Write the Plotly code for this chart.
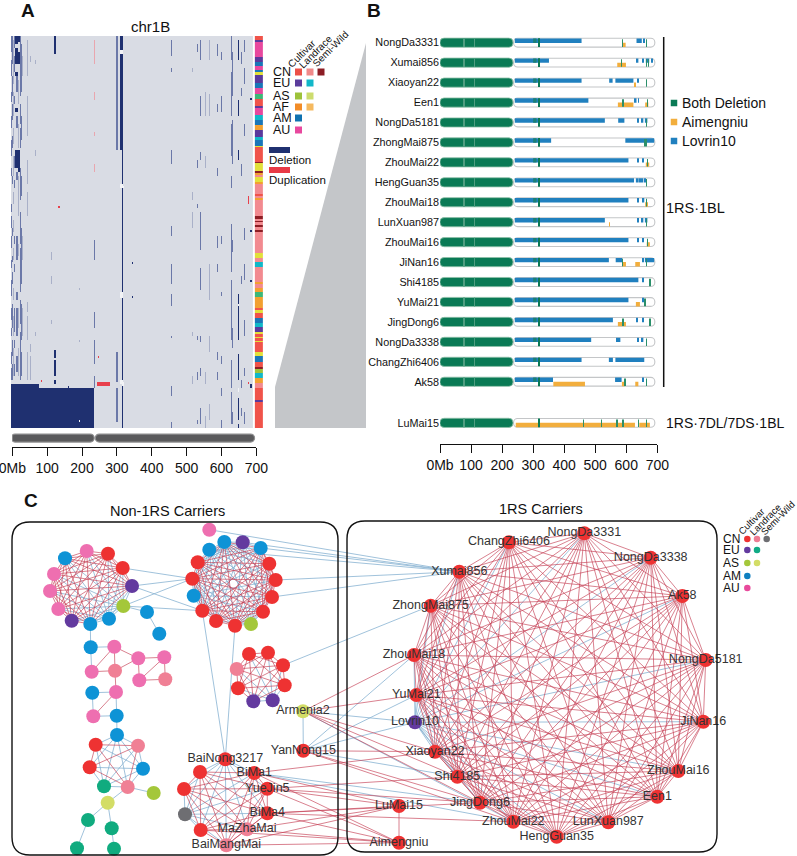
import plotly.graph_objects as go

W, H = 797, 856
FONT = "Liberation Sans"

# ---------- Panel A data ----------
GRID_MB_START, GRID_MB_STEP, GRID_COLS, GRID_ROWS = -4, 2, 347, 196
LEVELS = ["#d9dce4", "#a9b0c8", "#6b78a8", "#1f3070", "#e8404c", "#e9a6ae", "#f2f3f6"]
# (mb_start, mb_end, level, [(row_start, row_end), ...])
A_COLUMNS = [
    # left dense area
    (-4, -2, 2, [(0, 8), (12, 20), (28, 33), (40, 46), (52, 60), (66, 70), (84, 88), (90, 96), (100, 106), (112, 116), (122, 130), (136, 142), (146, 150), (158, 164), (166, 172)]),
    (-2, 0, 3, [(2, 6), (18, 22), (30, 32), (44, 48), (64, 68), (80, 84), (104, 108), (138, 141), (148, 150), (160, 163)]),
    (0, 3, 2, [(0, 14), (20, 30), (34, 42), (50, 56), (70, 74), (96, 100), (110, 113), (118, 124), (134, 146), (152, 160), (164, 172)]),
    (3, 6, 1, [(2, 24), (28, 40), (46, 54), (60, 70), (78, 84), (92, 98), (106, 112), (126, 132), (140, 150), (156, 170)]),
    (6, 9, 2, [(0, 6), (10, 18), (30, 34), (60, 66), (72, 76), (100, 104), (114, 118), (136, 148), (152, 156), (164, 170)]),
    (8, 16, 3, [(0, 4), (6, 14), (18, 20), (36, 38), (57, 66)]),
    (12, 16, 2, [(20, 28), (40, 46), (68, 72), (100, 112), (128, 132), (136, 150), (160, 168)]),
    (16, 22, 3, [(0, 3), (8, 14), (57, 66), (66, 68)]),
    (16, 20, 1, [(22, 34), (44, 56), (70, 90), (104, 110), (136, 146), (156, 170)]),
    (22, 25, 2, [(0, 30), (34, 44), (46, 56), (66, 82), (88, 104), (106, 128), (132, 144), (148, 172)]),
    (25, 28, 2, [(4, 28), (40, 52), (70, 80), (96, 124), (134, 152), (158, 170)]),
    (28, 30, 1, [(10, 20), (100, 112), (136, 150)]),
    (42, 44, 1, [(2, 20), (30, 50), (62, 74), (78, 90), (133, 138), (140, 152), (158, 172)]),
    (45, 47, 1, [(4, 18), (40, 52), (64, 68), (134, 138), (142, 150), (160, 172)]),
    (52, 54, 1, [(10, 13), (154, 158), (160, 172)]),
    (66, 68, 1, [(12, 14), (57, 60), (148, 150)]),
    # middle of the short arm
    (82, 84, 4, [(172, 173)]),
    (90, 92, 2, [(0, 3), (6, 9), (56, 64), (84, 86), (95, 97), (102, 113), (119, 122), (125, 128), (131, 134), (158, 161), (162, 172)]),
    (112, 114, 1, [(108, 112), (120, 124), (142, 144)]),
    (120, 126, 3, [(0, 8), (8, 9), (157, 161), (162, 170), (172, 174)]),
    (133, 137, 4, [(85, 86)]),
    (160, 164, 3, [(175, 176)]),
    (192, 194, 1, [(152, 153), (126, 127)]),
    (228, 231, 3, [(56, 63), (131, 135), (92, 93), (150, 151)]),
    (234, 236, 5, [(2, 14), (28, 32), (48, 50), (64, 68)]),
    (234, 236, 2, [(102, 112), (138, 146), (152, 164), (170, 176)]),
    (236, 238, 2, [(104, 116), (140, 150), (158, 163), (192, 196)]),
    (236, 238, 4, [(127, 129)]),
    (247, 250, 4, [(160, 161)]),
    (243, 280, 4, [(173, 175)]),
    (288, 290, 3, [(105, 110), (113, 115)]),
    # pericentric columns
    (298, 305, 2, [(0, 57), (158, 173), (176, 193)]),
    (310, 319, 3, [(0, 57)]),
    (315, 318, 3, [(57, 196)]),
    (310, 319, 6, [(7, 9), (74, 76), (128, 131), (172, 174)]),
    (343, 347, 3, [(113, 114), (130, 131)]),
    (316, 320, 6, [(75, 76), (173, 175)]),
    (328, 330, 1, [(6, 10), (170, 172)]),
    # right arm
    (420, 422, 2, [(12, 14), (57, 65), (77, 86), (104, 115), (118, 128), (131, 135), (148, 157), (157, 175), (180, 182)]),
    (455, 458, 2, [(2, 10), (16, 18), (57, 64), (95, 100), (114, 124), (129, 135), (150, 151), (175, 180), (193, 196)]),
    (495, 497, 1, [(26, 30), (186, 188)]),
    (516, 518, 1, [(16, 18), (78, 82), (88, 96), (148, 150), (170, 174)]),
    (520, 522, 2, [(2, 4), (20, 22), (68, 70), (98, 112), (116, 120), (126, 128), (148, 150), (158, 170), (176, 190)]),
    (530, 532, 2, [(4, 8), (62, 66), (84, 86), (150, 152), (168, 172), (192, 194)]),
    (538, 540, 2, [(2, 12), (30, 40), (58, 62), (88, 107), (116, 127), (150, 153), (166, 170), (186, 194)]),
    (546, 548, 1, [(0, 6), (14, 20), (29, 40), (70, 76), (158, 172), (184, 190)]),
    (554, 556, 1, [(28, 40), (60, 66), (168, 174), (190, 196)]),
    (560, 562, 2, [(0, 4), (8, 18), (30, 40), (60, 68), (92, 100), (113, 135), (146, 158), (162, 176), (182, 190)]),
    (564, 566, 1, [(2, 12), (29, 40), (114, 132), (150, 158), (184, 192)]),
    (572, 575, 2, [(0, 2), (10, 14), (30, 40), (66, 70), (110, 118), (114, 128), (160, 172), (186, 190)]),
    (580, 583, 3, [(0, 3), (8, 12), (20, 28), (36, 45), (57, 63), (96, 102), (115, 133), (138, 142), (155, 164), (166, 176), (186, 192)]),
    (588, 590, 2, [(4, 10), (34, 38), (66, 70), (100, 106), (114, 118), (158, 162), (168, 172)]),
    (598, 600, 2, [(8, 12), (30, 38), (100, 104), (128, 130), (160, 164), (176, 180), (192, 196)]),
    (612, 614, 1, [(2, 8), (20, 26), (48, 52), (116, 122), (174, 178)]),
    (628, 630, 2, [(0, 12), (18, 40), (44, 60), (70, 76), (94, 118), (122, 140), (140, 152), (162, 176), (178, 194)]),
    (631, 633, 2, [(8, 30), (42, 64), (102, 108), (146, 156), (188, 194)]),
    (646, 650, 3, [(2, 12), (32, 40), (57, 62), (129, 152), (159, 172), (181, 192), (194, 196)]),
    (646, 650, 6, [(134, 135), (176, 178)]),
    (656, 658, 2, [(8, 14), (26, 30), (64, 70), (120, 124), (172, 176), (186, 190)]),
    (664, 666, 2, [(2, 8), (16, 24), (44, 50), (96, 102), (114, 122), (142, 150), (166, 170), (188, 194)]),
    (672, 674, 2, [(4, 12), (32, 38), (62, 68), (104, 112), (126, 130), (152, 158), (164, 172)]),
    (676, 678, 4, [(80, 84), (173, 174)]),
    (678, 680, 3, [(14, 16), (96, 98), (122, 123), (168, 172)]),
    (682, 686, 3, [(31, 32), (97, 98), (122, 123), (174, 176)]),
    # deletion block on the short arm
    (-4, 76, 3, [(174, 176)]),
    (-4, 235, 3, [(176, 196)]),
    (76, 78, 6, [(180, 196)]),
    (192, 194, 6, [(192, 193)]),
]

STRIP_COLORS = {"red": "#f0534a", "salmon": "#f28a90", "dark": "#8c1d24", "purple": "#5a3a9c",
                "teal": "#10b8c8", "green": "#9dc23a", "yellow": "#e2e03a", "orange": "#f2a030",
                "blue": "#1a76b8", "pink": "#e8489e", "sea": "#3cb878"}
STRIP_KEYS = list(STRIP_COLORS)
STRIP_START = [36, 40, 42, 57, 62, 66, 70, 72, 75, 83, 88, 94, 99, 106, 108, 115, 120, 125, 130, 137, 140, 146, 147,
               148, 162, 163, 171, 173, 175, 177, 182, 184, 194, 196, 198, 200, 216, 219, 221, 222, 225, 227, 230, 232,
               253, 258, 262, 267, 282, 284, 288, 292, 297, 308, 310, 313, 318, 323, 327, 332, 334, 337, 338, 341, 342,
               352, 356, 362, 367, 369, 373, 378, 383, 388, 400, 402]
STRIP_BAND = ["red", "purple", "pink", "purple", "blue", "pink", "blue", "yellow", "purple", "blue", "pink", "sea",
              "red", "purple", "pink", "teal", "blue", "orange", "purple", "teal", "blue", "yellow", "red",
              "red", "dark", "yellow", "dark", "orange", "salmon", "yellow", "orange", "salmon", "red", "salmon", "orange", "salmon",
              "dark", "salmon", "dark", "salmon", "dark", "salmon", "dark", "salmon",
              "yellow", "salmon", "teal", "salmon", "orange", "salmon", "orange", "sea", "orange", "red", "yellow", "red", "blue",
              "teal", "purple", "yellow", "red", "yellow", "red", "yellow", "red",
              "yellow", "blue", "red", "dark", "green", "teal", "orange", "salmon", "red", "purple", "red"]
STRIP_END = 428

A_TICKS = [0, 100, 200, 300, 400, 500, 600, 700]
A_TICK_TEXT = ["0Mb", "100", "200", "300", "400", "500", "600", "700"]
IDEO_START = [-3.7, 238]
IDEO_LEN = [238.7, 457]

# ---------- Panel B data ----------
CULTIVARS = ["NongDa3331", "Xumai856", "Xiaoyan22", "Een1", "NongDa5181", "ZhongMai875", "ZhouMai22", "HengGuan35",
             "ZhouMai18", "LunXuan987", "ZhouMai16", "JiNan16", "Shi4185", "YuMai21", "JingDong6", "NongDa3338",
             "ChangZhi6406", "Ak58", "LuMai15"]
ROW_POS = [0, 1, 2, 3, 4, 5, 6, 7, 8, 9, 10, 11, 12, 13, 14, 15, 16, 17, 19.06]
LOVRIN = [
    [(241, 456), (633, 650), (655, 658)],
    [(241, 351), (633, 639), (652, 657), (663, 674), (681, 683)],
    [(241, 456), (545, 556), (565, 623), (636, 638)],
    [(241, 478), (625, 633), (638, 640)],
    [(241, 531), (574, 594), (636, 638), (650, 655), (660, 668)],
    [(241, 358), (597, 690)],
    [(241, 607), (636, 638), (652, 654)],
    [(241, 625), (631, 640), (642, 647), (649, 655), (659, 661)],
    [(241, 607), (636, 638), (653, 658)],
    [(241, 531), (636, 638), (650, 655), (660, 668)],
    [(241, 607), (636, 638), (652, 655)],
    [(241, 544), (566, 587), (652, 657), (660, 690)],
    [(241, 639), (652, 657)],
    [(241, 607), (652, 657)],
    [(241, 557), (634, 636), (652, 657)],
    [(241, 487), (567, 581), (636, 638), (650, 655)],
    [(241, 456), (544, 557), (565, 658)],
    [(241, 364), (564, 585), (652, 656)],
    [],
]
AIMENGNIU = [
    [(587, 598)],
    [(571, 599)],
    [(628, 631)],
    [(573, 623), (661, 671)],
    [],
    [],
    [(663, 674)],
    [],
    [(661, 670)],
    [(545, 547)],
    [(666, 676)],
    [(587, 599), (629, 644)],
    [],
    [(631, 644)],
    [(573, 599)],
    [],
    [],
    [(365, 467), (586, 596), (629, 639)],
    [(244, 628), (642, 676)],
]
GREEN_EXTRA = [
    [588, 665], [585, 665, 672], [665], [590, 668], [665], [660, 665], [668], [665], [665], [665], [668], [665, 588],
    [677], [660], [677, 590], [665], [], [665, 596], [462, 520, 570, 590, 640, 665],
]
GREEN_PATCH = (300, 311)
GREEN_LINE = 318
CHR_ARM = 235
TRACK_END = 692

# ---------- Panel C data (positions in the printed network layout) ----------
RS_NAMES = ["NongDa3331", "NongDa3338", "Ak58", "NongDa5181", "JiNan16", "ZhouMai16", "Een1", "LunXuan987", "HengGuan35",
            "ZhouMai22", "JingDong6", "Shi4185", "Xiaoyan22", "Lovrin10", "YuMai21", "ZhouMai18", "ZhongMai875",
            "Xumai856", "ChangZhi6406"]
RS_X = [584.3, 650.7, 682.3, 705.7, 703.3, 678.3, 657.3, 608.3, 556.7, 513.3, 480.0, 457.3, 435.0, 415.0, 416.3, 414.0, 430.7, 459.3, 509.0]
RS_Y = [533.3, 557.7, 596.0, 660.0, 721.7, 771.0, 796.7, 822.3, 836.7, 821.7, 802.7, 776.7, 751.7, 722.3, 695.0, 655.0, 605.7, 571.7, 542.3]

NET_X = [65.0, 86.7, 108.0, 122.7, 132.0, 123.3, 109.0, 90.3, 71.7, 58.3, 50.0, 54.0,
         209.3, 209.3, 224.3, 242.7, 260.7, 269.3, 275.7, 272.0, 263.0, 251.0, 235.0, 216.0, 202.3, 193.7, 192.3, 197.7,
         249.0, 268.0, 283.0, 284.7, 272.7, 253.3, 238.0, 236.7,
         147.0, 159.3,
         90.7, 114.3, 138.3, 164.3, 165.3, 139.3, 115.0, 91.7,
         92.3, 116.0, 116.7, 93.3,
         117.0, 138.0, 143.0, 127.7, 104.0, 89.7, 95.7, 153.7, 107.7, 88.0, 111.7, 77.0, 114.0,
         225.3, 254.3, 267.3, 267.3, 247.0, 226.3, 200.7, 185.0, 184.0, 200.0,
         303.0, 303.3, 399.0, 399.0]
NET_Y = [558.3, 551.0, 553.7, 568.0, 586.0, 606.0, 618.7, 624.0, 620.7, 609.0, 591.0, 574.0,
         529.7, 549.7, 542.0, 542.3, 548.0, 563.7, 580.0, 597.0, 611.7, 624.0, 625.7, 621.0, 610.7, 595.7, 578.7, 562.3,
         654.0, 652.7, 665.3, 685.3, 700.3, 701.3, 688.3, 669.0,
         612.0, 633.7,
         647.3, 646.7, 658.3, 657.3, 679.3, 680.3, 670.7, 671.7,
         692.7, 692.0, 715.7, 716.3,
         735.0, 745.7, 768.7, 787.0, 786.3, 767.3, 744.7, 793.0, 802.7, 820.0, 828.3, 848.3, 848.7,
         759.3, 773.0, 788.7, 813.3, 829.3, 845.3, 830.0, 814.3, 789.0, 772.0,
         711.3, 750.7, 806.0, 842.7]
NET_NAMES = [""] * 63 + ["BaiNong3217", "BiMa1", "YueJin5", "BiMa4", "MaZhaMai", "BaiMangMai", "", "", "", "",
                         "Armenia2", "YanNong15", "LuMai15", "Aimengniu"]
NET_COLOR = ["blue", "pink", "red", "red", "purple", "green", "blue", "blue", "purple", "pink", "pink", "pink",
             "pink", "blue", "blue", "purple", "blue", "red", "red", "red", "red", "green", "red", "red", "red", "blue", "red", "red",
             "red", "red", "red", "red", "purple", "purple", "red", "rose",
             "blue", "blue",
             "blue", "pink", "pink", "pink", "rose", "pink", "rose", "pink",
             "blue", "pink", "blue", "pink",
             "blue", "rose", "blue", "rose", "teal", "red", "red", "green", "yellow", "teal", "teal", "teal", "teal",
             "red", "red", "red", "red", "rose", "rose", "red", "grey", "red", "red",
             "yellow", "red", "red", "red"]
NODE_COLORS = {"red": "#ee3232", "pink": "#ee6fb0", "rose": "#f08095", "blue": "#0e93d6", "purple": "#633a9f",
               "green": "#a4c73a", "yellow": "#d3dd66", "teal": "#10ab7f", "grey": "#6e6e72"}
CLUSTERS = [list(range(0, 12)), list(range(13, 28)), list(range(28, 36)), list(range(50, 57)), list(range(63, 73))]
CLUSTER_BLUE = [[5, 6], [13, 15, 25, 21], [32], [50, 54, 52], [70, 63]]
CHAIN = [(7, 38), (38, 39), (38, 45), (39, 45), (39, 44), (39, 40), (45, 44), (44, 40), (40, 41), (40, 43), (41, 43),
         (41, 42), (43, 42), (44, 47), (46, 47), (46, 49), (47, 49), (47, 48), (49, 48), (48, 50), (53, 57), (53, 58),
         (58, 59), (58, 60), (59, 61), (60, 62), (36, 37), (5, 36), (73, 74), (75, 76), (4, 26)]
BLUE_INTERNAL = [(3, 26), (5, 26), (5, 24), (4, 24), (22, 63), (24, 63)]
RED_LINKS_TO_RS = [(73, "ZhouMai18"), (73, "YuMai21"), (73, "Xiaoyan22"), (73, "Shi4185"), (73, "JingDong6"),
                   (74, "Xiaoyan22"), (74, "JingDong6"), (74, "ZhouMai22"),
                   (64, "Xiaoyan22"), (65, "Shi4185"), (65, "JingDong6"), (66, "JingDong6"), (66, "ZhouMai22")]
BLUE_LINKS_TO_RS = [(73, "Lovrin10"), (73, "ZhouMai22"), (74, "ZhouMai18"), (74, "YuMai21"), (74, "Lovrin10"), (74, "Shi4185"),
                    (64, "JingDong6"), (64, "ZhouMai22"), (13, "Xumai856"), (12, "Xumai856"), (15, "Xumai856"), (16, "Xumai856"),
                    (18, "Xumai856"), (19, "Xumai856"), (30, "ZhongMai875")]
RED_INTERNAL = [(64, 75), (65, 75), (66, 75), (67, 75), (68, 75), (64, 76), (65, 76), (66, 76), (67, 76), (68, 76), (69, 76)]

TEXT = "#333333"

# ---------- helpers ----------
def dom_x(a, b):
    return [a / W, b / W]

def dom_y(top, bot):
    return [1 - bot / H, 1 - top / H]

def rounded(x0, y0, x1, y1, r):
    return (f"M {x0+r} {y0} L {x1-r} {y0} Q {x1} {y0} {x1} {y0+r} L {x1} {y1-r} Q {x1} {y1} {x1-r} {y1} "
            f"L {x0+r} {y1} Q {x0} {y1} {x0} {y1-r} L {x0} {y0+r} Q {x0} {y0} {x0+r} {y0} Z")

fig = go.Figure()

# ---------- Panel A ----------
z = [[0] * GRID_COLS for _ in range(GRID_ROWS)]
for a, b, lv, spans in A_COLUMNS:
    ca = max(0, int((a - GRID_MB_START) / GRID_MB_STEP))
    cb = min(GRID_COLS, max(ca + 1, int((b - GRID_MB_START) / GRID_MB_STEP)))
    for r0, r1 in spans:
        for r in range(r0, min(r1, GRID_ROWS)):
            for c in range(ca, cb):
                z[r][c] = lv
n = len(LEVELS) - 1
scale = []
for i, col in enumerate(LEVELS):
    scale += [[i / (n + 1), col], [(i + 1) / (n + 1), col]]
fig.add_trace(go.Heatmap(z=z, x0=GRID_MB_START + GRID_MB_STEP / 2, dx=GRID_MB_STEP, y0=0.5, dy=1,
                         zmin=-0.5, zmax=n + 0.5, colorscale=scale, showscale=False, hoverinfo="skip",
                         xaxis="x", yaxis="y"))
edges = [(s - 36) / 2 for s in STRIP_START] + [(STRIP_END - 36) / 2]
zs = [[STRIP_KEYS.index(b)] for b in STRIP_BAND]
m = len(STRIP_KEYS)
sscale = []
for i, k in enumerate(STRIP_KEYS):
    sscale += [[i / m, STRIP_COLORS[k]], [(i + 1) / m, STRIP_COLORS[k]]]
fig.add_trace(go.Heatmap(z=zs, x=[695, 718], y=edges, zmin=-0.5, zmax=m - 0.5, colorscale=sscale,
                         showscale=False, hoverinfo="skip", xaxis="x", yaxis="y"))
fig.add_trace(go.Bar(y=[0.47, 0.47], base=IDEO_START, x=IDEO_LEN, orientation="h", width=0.42,
                     marker=dict(color="#5a5a5c", line=dict(color="#8f8f90", width=1.2), cornerradius=4),
                     cliponaxis=False, hoverinfo="skip", xaxis="x2", yaxis="y2"))

# ---------- Panel B ----------
def seg_trace(rows, offset, thick, color):
    ys, base, xs = [], [], []
    for rp, segs in zip(ROW_POS, rows):
        for a, b in segs:
            ys.append(rp + offset)
            base.append(a)
            xs.append(b - a)
    return go.Bar(y=ys, base=base, x=xs, orientation="h", width=thick, marker=dict(color=color, line=dict(width=0)),
                  hoverinfo="skip", xaxis="x3", yaxis="y3")

fig.add_trace(go.Bar(y=ROW_POS, base=[237] * 19, x=[TRACK_END - 237] * 19, orientation="h", width=0.44,
                     marker=dict(color="white", line=dict(color="#c4c6c8", width=1.1), cornerradius=4),
                     hoverinfo="skip", xaxis="x3", yaxis="y3"))
fig.add_trace(seg_trace(LOVRIN, -0.10, 0.22, "#2080bf"))
fig.add_trace(seg_trace(AIMENGNIU, 0.11, 0.22, "#f2ae3d"))
fig.add_trace(seg_trace([[GREEN_PATCH] for _ in CULTIVARS[:-1]] + [[]], -0.10, 0.22, "#1a7f78"))
fig.add_trace(seg_trace([[(GREEN_LINE - 1, GREEN_LINE + 1)] for _ in CULTIVARS], 0, 0.44, "#0a7a55"))
fig.add_trace(seg_trace([[(g - 1, g + 1) for g in gs] for gs in GREEN_EXTRA], 0.02, 0.38, "#2b8f6a"))
fig.add_trace(go.Bar(y=ROW_POS, base=[0] * 19, x=[CHR_ARM] * 19, orientation="h", width=0.46,
                     marker=dict(color="#0a7a55", line=dict(color="#8fc0aa", width=0.8), cornerradius=4),
                     hoverinfo="skip", xaxis="x3", yaxis="y3"))
fig.add_trace(seg_trace([[(77, 78), (110, 111)] for _ in CULTIVARS], 0, 0.44, "#4f9d80"))

# ---------- Panel C ----------
PX = list(NET_X) + RS_X
PY = list(NET_Y) + RS_Y
COL = list(NET_COLOR) + ["red"] * 13 + ["purple"] + ["red"] * 5
IDX_RS = {name: len(NET_X) + i for i, name in enumerate(RS_NAMES)}
NONRED = {"blue", "purple", "green", "teal", "yellow", "grey"}

red_edges, blue_edges = [], []
def add_edge(a, b, forced=None):
    blue = (COL[a] in NONRED or COL[b] in NONRED) if forced is None else forced
    (blue_edges if blue else red_edges).append((a, b))

for cl, bl in zip(CLUSTERS, CLUSTER_BLUE):
    for i, a in enumerate(cl):
        for b in cl[i + 1:]:
            add_edge(a, b, a in bl or b in bl)
rs_ids = [IDX_RS[nm] for nm in RS_NAMES]
for i, a in enumerate(rs_ids):
    for b in rs_ids[i + 1:]:
        add_edge(a, b)
for a, b in CHAIN:
    add_edge(a, b)
for a, b in BLUE_INTERNAL:
    add_edge(a, b, True)
for a, nm in RED_LINKS_TO_RS:
    add_edge(a, IDX_RS[nm], False)
for a, nm in BLUE_LINKS_TO_RS:
    add_edge(a, IDX_RS[nm], True)
for a, b in RED_INTERNAL:
    add_edge(a, b, False)

def edge_xy(es):
    xs, ys = [], []
    for a, b in es:
        xs += [PX[a], PX[b], None]
        ys += [PY[a], PY[b], None]
    return xs, ys

bx, by = edge_xy(blue_edges)
rx, ry = edge_xy(red_edges)
fig.add_trace(go.Scatter(x=bx, y=by, mode="lines", line=dict(color="rgba(130,175,208,0.85)", width=0.9),
                         hoverinfo="skip", xaxis="x4", yaxis="y4"))
fig.add_trace(go.Scatter(x=rx, y=ry, mode="lines", line=dict(color="rgba(196,60,82,0.72)", width=0.9),
                         hoverinfo="skip", xaxis="x4", yaxis="y4"))
fig.add_trace(go.Scatter(x=PX, y=PY, mode="markers+text", text=list(NET_NAMES) + RS_NAMES,
                         textposition="middle center", textfont=dict(size=12.5, color=TEXT, family=FONT),
                         marker=dict(size=14, color=[NODE_COLORS[c] for c in COL], line=dict(width=0)),
                         hoverinfo="skip", xaxis="x4", yaxis="y4"))

# legend swatches A and C
LEG_A_ROWS = ["CN", "EU", "AS", "AF", "AM", "AU"]
LEG_A_COLORS = [["#ec5048", "#f08a8a", "#8c1d24"], ["#5b3c9c", "#12b7c9"], ["#9dc23a", "#cddc6e"],
                ["#f28c28", "#f5b95f"], ["#0f72b0"], ["#e8489e"]]
LEG_A_Y = [72, 83, 96, 107, 118, 130]
LEG_A_X = [298.5, 310, 321]
LEG_C_ROWS = ["CN", "EU", "AS", "AM", "AU"]
LEG_C_COLORS = [["#ee3232", "#ee7d94", "#6e6e72"], ["#633a9f", "#10ab85"], ["#a4c73a", "#d3dd66"], ["#0e7fc0"], ["#e84a9c"]]
LEG_C_Y = [539, 550, 563, 576, 588]
LEG_C_X = [747.3, 757, 766.7]
LEG_B_NAMES = ["Both Deletion", "Aimengniu", "Lovrin10"]
LEG_B_COLORS = ["#0a7a55", "#f2ae3d", "#2080bf"]
LEG_B_Y = [103, 122, 141]

def swatch(rows, ys, xs, sym, size):
    sx, sy, sc = [], [], []
    for cols, y in zip(rows, ys):
        for c, x in zip(cols, xs):
            sx.append(x); sy.append(y); sc.append(c)
    return go.Scatter(x=sx, y=sy, mode="markers", marker=dict(symbol=sym, size=size, color=sc, line=dict(width=0)),
                      hoverinfo="skip", xaxis="x4", yaxis="y4")

fig.add_trace(swatch(LEG_A_COLORS, LEG_A_Y, LEG_A_X, "square", 7))
fig.add_trace(swatch(LEG_C_COLORS, LEG_C_Y, LEG_C_X, "circle", 6.5))
fig.add_trace(swatch([[c] for c in LEG_B_COLORS], LEG_B_Y, [674], "square", 6.5))

# ---------- annotations ----------
ann = []
def label(x, y, text, size=12, anchor="center", angle=0, bold=False, color="#111111"):
    t = f"<b>{text}</b>" if bold else text
    ann.append(dict(x=x / W, y=1 - y / H, xref="paper", yref="paper", text=t, showarrow=False, xanchor=anchor,
                    yanchor="middle", textangle=angle, font=dict(size=size, family=FONT, color=color),
                    borderpad=0, borderwidth=0))

label(21, 10, "A", 19, "left", bold=True)
label(367, 10, "B", 19, "left", bold=True)
label(24, 500, "C", 19, "left", bold=True)
label(150, 26, "chr1B", 15)
label(167, 511, "Non-1RS Carriers", 14.5)
label(541, 509, "1RS Carriers", 14.5)
for r, y in zip(LEG_A_ROWS, LEG_A_Y):
    label(273, y, r, 12.5, "left")
label(302, 54, "Cultivar", 10, angle=-45)
label(316, 52, "Landrace", 10, angle=-45)
label(331, 49, "Semi-Wild", 10, angle=-45)
label(269, 159.5, "Deletion", 11.5, "left")
label(269, 180, "Duplication", 11.5, "left")
for r, y in zip(LEG_C_ROWS, LEG_C_Y):
    label(723, y, r, 12, "left")
label(751, 521, "Cultivar", 9.5, angle=-45)
label(765, 519, "Landrace", 9.5, angle=-45)
label(777, 518, "Semi-Wild", 9.5, angle=-45)
for nm, y in zip(LEG_B_NAMES, LEG_B_Y):
    label(682, y, nm, 14, "left")
label(666, 208, "1RS·1BL", 14.5, "left")
label(666, 423, "1RS·7DL/7DS·1BL", 14, "left")

# ---------- shapes ----------
shapes = [
    dict(type="path", path="M 366 43 L 275 387 L 275 428 L 366 428 Z", xref="x4", yref="y4",
         fillcolor="#c4c6c9", line=dict(width=0), layer="below"),
    dict(type="rect", x0=269, x1=290, y0=147, y1=153, xref="x4", yref="y4", fillcolor="#1f3070", line=dict(width=0)),
    dict(type="rect", x0=269, x1=290, y0=167, y1=173, xref="x4", yref="y4", fillcolor="#e83a46", line=dict(width=0)),
    dict(type="line", x0=663.7, x1=663.7, y0=37, y1=387, xref="x4", yref="y4", line=dict(color="#111111", width=1.5)),
    dict(type="path", path=rounded(12, 522, 338, 855, 18), xref="x4", yref="y4", line=dict(color="#111111", width=1.4)),
    dict(type="path", path=rounded(347, 521, 717, 852, 18), xref="x4", yref="y4", line=dict(color="#111111", width=1.4)),
]

tick_style = dict(ticks="outside", ticklen=8, tickwidth=1.4, tickcolor="#111111", showline=True, linecolor="#111111",
                  linewidth=1.4, showgrid=False, zeroline=False, tickfont=dict(size=14, family=FONT, color="#111111"),
                  tickmode="array", tickvals=A_TICKS, ticktext=A_TICK_TEXT, range=[0, 700], tickangle=0,
                  ticklabeloverflow="allow")

fig.update_layout(
    width=W, height=H, margin=dict(l=0, r=0, t=0, b=0, pad=0, autoexpand=False),
    paper_bgcolor="white", plot_bgcolor="rgba(0,0,0,0)",
    showlegend=False, hovermode=False, barmode="overlay", annotations=ann, shapes=shapes,
    font=dict(family=FONT),
    xaxis=dict(domain=dom_x(11, 263), range=[-3.7, 718.3], visible=False, anchor="y"),
    yaxis=dict(domain=dom_y(36, 428), range=[196, 0], visible=False, anchor="x"),
    xaxis2=dict(domain=dom_x(12.3, 256.3), anchor="y2", **tick_style),
    yaxis2=dict(domain=dom_y(428, 447), range=[0, 1], visible=False, anchor="x2"),
    xaxis3=dict(domain=dom_x(440, 657.3), anchor="y3", **tick_style),
    yaxis3=dict(domain=dom_y(30, 444), range=[20.12, -0.637], anchor="x3", showgrid=False, zeroline=False,
                showline=False, ticks="", tickmode="array", tickvals=ROW_POS, ticktext=CULTIVARS,
                tickfont=dict(size=10.8, family=FONT, color="#111111")),
    xaxis4=dict(domain=[0, 1], range=[0, W], visible=False, anchor="y4"),
    yaxis4=dict(domain=[0, 1], range=[H, 0], visible=False, anchor="x4"),
)
fig.write_html("out.html", post_script="document.body.style.margin='0';", config={"displayModeBar": False})
